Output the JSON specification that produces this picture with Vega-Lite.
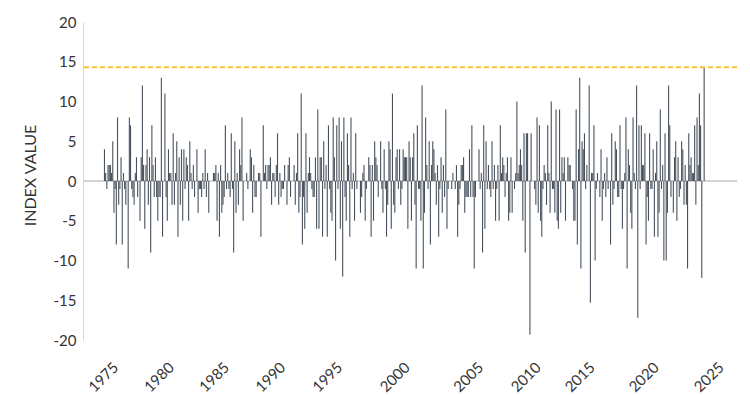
{
"$schema": "https://vega.github.io/schema/vega-lite/v6.json",
"width": 654,
"height": 318,
"autosize": {"type": "none"},
"padding": {"left": 83, "top": 22, "right": 13, "bottom": 55},
"background": "white",
"config": {"view": {"stroke": null}, "font": "Lato",
"axisY": {"values": [-20, -15, -10, -5, 0, 5, 10, 15, 20], "ticks": false, "grid": false,
"labelOverlap": false, "labelFlush": false, "labelExpr": "'' + datum.value",
"domainColor": "#d9d9d9", "labelFontSize": 15, "labelColor": "#333333", "labelPadding": 7,
"titleFontSize": 16, "titleFontWeight": "normal", "titleColor": "#333333", "titlePadding": 15, "titleY": 153}},
"data": {"values": [
{"i":1,"v":4},{"i":2,"v":1},{"i":3,"v":-1},{"i":4,"v":2},{"i":5,"v":2},{"i":6,"v":2},{"i":7,"v":1},{"i":8,"v":5},{"i":9,"v":-4},{"i":10,"v":-1},
{"i":11,"v":-8},{"i":12,"v":8},{"i":13,"v":-3},{"i":14,"v":-1},{"i":15,"v":3},{"i":16,"v":-8},{"i":17,"v":1},{"i":18,"v":-1},{"i":19,"v":-3},{"i":20,"v":0},
{"i":21,"v":-11},{"i":22,"v":8},{"i":23,"v":7},{"i":24,"v":-1},{"i":25,"v":-2},{"i":26,"v":-3},{"i":27,"v":1},{"i":28,"v":3},{"i":29,"v":-2},{"i":30,"v":0},
{"i":31,"v":-5},{"i":32,"v":3},{"i":33,"v":12},{"i":34,"v":2},{"i":35,"v":-6},{"i":36,"v":2},{"i":37,"v":4},{"i":38,"v":-3},{"i":39,"v":3},{"i":40,"v":-9},
{"i":41,"v":7},{"i":42,"v":2},{"i":43,"v":-2},{"i":44,"v":3},{"i":45,"v":-2},{"i":46,"v":-5},{"i":47,"v":-2},{"i":48,"v":-2},{"i":49,"v":13},{"i":50,"v":-7},
{"i":51,"v":0},{"i":52,"v":11},{"i":53,"v":-2},{"i":54,"v":-5},{"i":55,"v":4},{"i":56,"v":1},{"i":57,"v":1},{"i":58,"v":-3},{"i":59,"v":6},{"i":60,"v":-3},
{"i":61,"v":1},{"i":62,"v":5},{"i":63,"v":-7},{"i":64,"v":3},{"i":65,"v":-3},{"i":66,"v":4},{"i":67,"v":-5},{"i":68,"v":4},{"i":69,"v":-1},{"i":70,"v":3},
{"i":71,"v":2},{"i":72,"v":-5},{"i":73,"v":5},{"i":74,"v":1},{"i":75,"v":-1},{"i":76,"v":2},{"i":77,"v":-2},{"i":78,"v":0},{"i":79,"v":4},{"i":80,"v":-4},
{"i":81,"v":-1},{"i":82,"v":-1},{"i":83,"v":-2},{"i":84,"v":1},{"i":85,"v":-1},{"i":86,"v":4},{"i":87,"v":-2},{"i":88,"v":1},{"i":89,"v":-4},{"i":90,"v":0},
{"i":91,"v":0},{"i":92,"v":0},{"i":93,"v":1},{"i":94,"v":1},{"i":95,"v":2},{"i":96,"v":-5},{"i":97,"v":1},{"i":98,"v":-7},{"i":99,"v":2},{"i":100,"v":-4},
{"i":101,"v":-3},{"i":102,"v":-2},{"i":103,"v":7},{"i":104,"v":-1},{"i":105,"v":1},{"i":106,"v":-1},{"i":107,"v":-2},{"i":108,"v":6},{"i":109,"v":-1},{"i":110,"v":-9},
{"i":111,"v":5},{"i":112,"v":-4},{"i":113,"v":1},{"i":114,"v":-3},{"i":115,"v":4},{"i":116,"v":2},{"i":117,"v":8},{"i":118,"v":-5},{"i":119,"v":0},{"i":120,"v":0},
{"i":121,"v":1},{"i":122,"v":-1},{"i":123,"v":0},{"i":124,"v":4},{"i":125,"v":3},{"i":126,"v":-4},{"i":127,"v":2},{"i":128,"v":-2},{"i":129,"v":-2},{"i":130,"v":0},
{"i":131,"v":1},{"i":132,"v":1},{"i":133,"v":-7},{"i":134,"v":0},{"i":135,"v":7},{"i":136,"v":1},{"i":137,"v":2},{"i":138,"v":-1},{"i":139,"v":2},{"i":140,"v":2},
{"i":141,"v":3},{"i":142,"v":-3},{"i":143,"v":1},{"i":144,"v":1},{"i":145,"v":-2},{"i":146,"v":2},{"i":147,"v":6},{"i":148,"v":-3},{"i":149,"v":1},{"i":150,"v":-2},
{"i":151,"v":-1},{"i":152,"v":-1},{"i":153,"v":2},{"i":154,"v":0},{"i":155,"v":-3},{"i":156,"v":2},{"i":157,"v":3},{"i":158,"v":-2},{"i":159,"v":0},{"i":160,"v":0},
{"i":161,"v":2},{"i":162,"v":-3},{"i":163,"v":1},{"i":164,"v":6},{"i":165,"v":-4},{"i":166,"v":-2},{"i":167,"v":11},{"i":168,"v":-8},{"i":169,"v":-2},{"i":170,"v":-6},
{"i":171,"v":6},{"i":172,"v":-4},{"i":173,"v":1},{"i":174,"v":3},{"i":175,"v":1},{"i":176,"v":-1},{"i":177,"v":-2},{"i":178,"v":-2},{"i":179,"v":3},{"i":180,"v":-6},
{"i":181,"v":9},{"i":182,"v":-6},{"i":183,"v":3},{"i":184,"v":3},{"i":185,"v":-7},{"i":186,"v":5},{"i":187,"v":-1},{"i":188,"v":2},{"i":189,"v":-7},{"i":190,"v":7},
{"i":191,"v":-1},{"i":192,"v":-4},{"i":193,"v":-5},{"i":194,"v":8},{"i":195,"v":3},{"i":196,"v":-10},{"i":197,"v":7},{"i":198,"v":-1},{"i":199,"v":8},{"i":200,"v":-6},
{"i":201,"v":5},{"i":202,"v":-12},{"i":203,"v":8},{"i":204,"v":-2},{"i":205,"v":-5},{"i":206,"v":6},{"i":207,"v":2},{"i":208,"v":-7},{"i":209,"v":8},{"i":210,"v":-1},
{"i":211,"v":1},{"i":212,"v":-5},{"i":213,"v":6},{"i":214,"v":-1},{"i":215,"v":0},{"i":216,"v":0},{"i":217,"v":-4},{"i":218,"v":-2},{"i":219,"v":1},{"i":220,"v":2},
{"i":221,"v":-5},{"i":222,"v":-1},{"i":223,"v":0},{"i":224,"v":3},{"i":225,"v":2},{"i":226,"v":-7},{"i":227,"v":2},{"i":228,"v":-5},{"i":229,"v":5},{"i":230,"v":3},
{"i":231,"v":2},{"i":232,"v":-2},{"i":233,"v":0},{"i":234,"v":5},{"i":235,"v":-1},{"i":236,"v":-4},{"i":237,"v":4},{"i":238,"v":-1},{"i":239,"v":-7},{"i":240,"v":-3},
{"i":241,"v":5},{"i":242,"v":4},{"i":243,"v":-6},{"i":244,"v":11},{"i":245,"v":-3},{"i":246,"v":-4},{"i":247,"v":3},{"i":248,"v":4},{"i":249,"v":-1},{"i":250,"v":4},
{"i":251,"v":-3},{"i":252,"v":-1},{"i":253,"v":4},{"i":254,"v":3},{"i":255,"v":3},{"i":256,"v":3},{"i":257,"v":-6},{"i":258,"v":5},{"i":259,"v":3},{"i":260,"v":-5},
{"i":261,"v":3},{"i":262,"v":6},{"i":263,"v":-3},{"i":264,"v":-11},{"i":265,"v":7},{"i":266,"v":-1},{"i":267,"v":-1},{"i":268,"v":-5},{"i":269,"v":12},{"i":270,"v":-11},
{"i":271,"v":-4},{"i":272,"v":8},{"i":273,"v":2},{"i":274,"v":-1},{"i":275,"v":5},{"i":276,"v":-8},{"i":277,"v":2},{"i":278,"v":5},{"i":279,"v":4},{"i":280,"v":1},
{"i":281,"v":-3},{"i":282,"v":2},{"i":283,"v":-7},{"i":284,"v":-1},{"i":285,"v":3},{"i":286,"v":-4},{"i":287,"v":2},{"i":288,"v":-2},{"i":289,"v":9},{"i":290,"v":-6},
{"i":291,"v":-1},{"i":292,"v":0},{"i":293,"v":0},{"i":294,"v":-1},{"i":295,"v":1},{"i":296,"v":0},{"i":297,"v":-1},{"i":298,"v":2},{"i":299,"v":-7},{"i":300,"v":-3},
{"i":301,"v":-1},{"i":302,"v":2},{"i":303,"v":2},{"i":304,"v":3},{"i":305,"v":-4},{"i":306,"v":-2},{"i":307,"v":-2},{"i":308,"v":-2},{"i":309,"v":4},{"i":310,"v":-2},
{"i":311,"v":7},{"i":312,"v":-2},{"i":313,"v":-11},{"i":314,"v":-2},{"i":315,"v":0},{"i":316,"v":0},{"i":317,"v":4},{"i":318,"v":-1},{"i":319,"v":1},{"i":320,"v":-9},
{"i":321,"v":7},{"i":322,"v":-6},{"i":323,"v":5},{"i":324,"v":-1},{"i":325,"v":2},{"i":326,"v":-1},{"i":327,"v":-2},{"i":328,"v":5},{"i":329,"v":-1},{"i":330,"v":2},
{"i":331,"v":-5},{"i":332,"v":-1},{"i":333,"v":2},{"i":334,"v":-5},{"i":335,"v":7},{"i":336,"v":1},{"i":337,"v":3},{"i":338,"v":2},{"i":339,"v":-2},{"i":340,"v":1},
{"i":341,"v":3},{"i":342,"v":-5},{"i":343,"v":-4},{"i":344,"v":3},{"i":345,"v":-4},{"i":346,"v":0},{"i":347,"v":-1},{"i":348,"v":1},{"i":349,"v":10},{"i":350,"v":1},
{"i":351,"v":2},{"i":352,"v":4},{"i":353,"v":2},{"i":354,"v":-5},{"i":355,"v":6},{"i":356,"v":-9},{"i":357,"v":6},{"i":358,"v":6},{"i":359,"v":0},{"i":360,"v":-19.3},
{"i":361,"v":6},{"i":362,"v":0},{"i":363,"v":0},{"i":364,"v":-1},{"i":365,"v":-3},{"i":366,"v":8},{"i":367,"v":-4},{"i":368,"v":7},{"i":369,"v":-5},{"i":370,"v":-7},
{"i":371,"v":-1},{"i":372,"v":2},{"i":373,"v":1},{"i":374,"v":-3},{"i":375,"v":7},{"i":376,"v":1},{"i":377,"v":-4},{"i":378,"v":10},{"i":379,"v":-1},{"i":380,"v":-1},
{"i":381,"v":-4},{"i":382,"v":9},{"i":383,"v":-5},{"i":384,"v":-6},{"i":385,"v":9},{"i":386,"v":-4},{"i":387,"v":3},{"i":388,"v":1},{"i":389,"v":3},{"i":390,"v":-5},
{"i":391,"v":0},{"i":392,"v":3},{"i":393,"v":2},{"i":394,"v":2},{"i":395,"v":0},{"i":396,"v":-1},{"i":397,"v":-5},{"i":398,"v":-5},{"i":399,"v":9},{"i":400,"v":-8},
{"i":401,"v":4},{"i":402,"v":13},{"i":403,"v":-11},{"i":404,"v":5},{"i":405,"v":4},{"i":406,"v":6},{"i":407,"v":-1},{"i":408,"v":2},{"i":409,"v":0},{"i":410,"v":12},
{"i":411,"v":-15.3},{"i":412,"v":1},{"i":413,"v":1},{"i":414,"v":7},{"i":415,"v":-10},{"i":416,"v":-1},{"i":417,"v":1},{"i":418,"v":0},{"i":419,"v":-2},{"i":420,"v":4},
{"i":421,"v":-5},{"i":422,"v":-1},{"i":423,"v":1},{"i":424,"v":-2},{"i":425,"v":3},{"i":426,"v":-1},{"i":427,"v":0},{"i":428,"v":-8},{"i":429,"v":6},{"i":430,"v":-3},
{"i":431,"v":-1},{"i":432,"v":5},{"i":433,"v":4},{"i":434,"v":-2},{"i":435,"v":-2},{"i":436,"v":7},{"i":437,"v":-1},{"i":438,"v":-6},{"i":439,"v":-1},{"i":440,"v":1},
{"i":441,"v":8},{"i":442,"v":-11},{"i":443,"v":4},{"i":444,"v":2},{"i":445,"v":-4},{"i":446,"v":-6},{"i":447,"v":8},{"i":448,"v":1},{"i":449,"v":-1},{"i":450,"v":12},
{"i":451,"v":-17.2},{"i":452,"v":7},{"i":453,"v":-1},{"i":454,"v":7},{"i":455,"v":2},{"i":456,"v":2},{"i":457,"v":6},{"i":458,"v":-8},{"i":459,"v":-2},{"i":460,"v":-5},
{"i":461,"v":6},{"i":462,"v":-1},{"i":463,"v":-1},{"i":464,"v":4},{"i":465,"v":-7},{"i":466,"v":1},{"i":467,"v":5},{"i":468,"v":-7},{"i":469,"v":-4},{"i":470,"v":9},
{"i":471,"v":-1},{"i":472,"v":2},{"i":473,"v":-10},{"i":474,"v":6},{"i":475,"v":-10},{"i":476,"v":-4},{"i":477,"v":12},{"i":478,"v":7},{"i":479,"v":-2},{"i":480,"v":0},
{"i":481,"v":-4},{"i":482,"v":3},{"i":483,"v":5},{"i":484,"v":-5},{"i":485,"v":3},{"i":486,"v":-2},{"i":487,"v":-1},{"i":488,"v":5},{"i":489,"v":4},{"i":490,"v":-3},
{"i":491,"v":2},{"i":492,"v":-3},{"i":493,"v":-11},{"i":494,"v":6},{"i":495,"v":2},{"i":496,"v":3},{"i":497,"v":1},{"i":498,"v":1},{"i":499,"v":7},{"i":500,"v":-3},
{"i":501,"v":8},{"i":502,"v":2},{"i":503,"v":11},{"i":504,"v":7},{"i":505,"v":-12.2},{"i":506,"v":0},{"i":507,"v":14.3}
]},
"layer": [
{
"mark": {"type": "rule", "color": "#d3d3d3", "strokeWidth": 1},
"encoding": {"y": {"datum": 0, "type": "quantitative", "title": "INDEX VALUE",
"scale": {"domain": [-20, 20], "nice": false},
"axis": {"values": [-20, -15, -10, -5, 0, 5, 10, 15, 20], "labelOverlap": false}}}
},
{
"mark": {"type": "bar", "size": 1.1, "color": "#48525d"},
"encoding": {
"x": {"field": "i", "type": "quantitative",
"scale": {"domain": [-12.9, 530.5], "nice": false, "zero": false},
"axis": {"values": [6, 53, 99.5, 147, 195, 252, 314, 362.5, 408, 462, 517],
"labelExpr": "'' + (1975 + 5 * indexof([6, 53, 99.5, 147, 195, 252, 314, 362.5, 408, 462, 517], datum.value))",
"labelAngle": -45, "labelAlign": "right", "labelBaseline": "top", "labelPadding": 19.5,
"ticks": false, "domain": false, "grid": false, "title": null,
"labelFontSize": 15, "labelColor": "#333333", "labelOverlap": false, "labelFlush": false}},
"y": {"field": "v", "type": "quantitative", "title": "INDEX VALUE",
"scale": {"domain": [-20, 20], "nice": false},
"axis": {"values": [-20, -15, -10, -5, 0, 5, 10, 15, 20], "labelOverlap": false}}
}
},
{
"mark": {"type": "rule", "color": "#f7c234", "strokeWidth": 2, "strokeDash": [5, 3]},
"encoding": {"y": {"aggregate": "max", "field": "v", "type": "quantitative", "title": "INDEX VALUE",
"axis": {"values": [-20, -15, -10, -5, 0, 5, 10, 15, 20], "labelOverlap": false}}}
}
]
}
